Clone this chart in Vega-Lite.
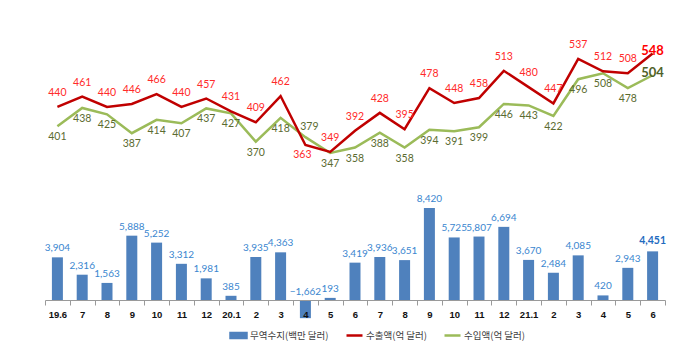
{
  "$schema": "https://vega.github.io/schema/vega-lite/v6.json",
  "width": 620,
  "height": 300,
  "autosize": {"type": "none"},
  "padding": {"left": 45, "right": 35, "top": 0, "bottom": 61},
  "background": "white",
  "config": {"view": {"stroke": null}},
  "data": {
    "values": [
      {"m": "19.6", "bal": 3904, "ex": 440, "im": 401},
      {"m": "19.7", "bal": 2316, "ex": 461, "im": 438},
      {"m": "19.8", "bal": 1563, "ex": 440, "im": 425},
      {"m": "19.9", "bal": 5888, "ex": 446, "im": 387},
      {"m": "19.10", "bal": 5252, "ex": 466, "im": 414},
      {"m": "19.11", "bal": 3312, "ex": 440, "im": 407},
      {"m": "19.12", "bal": 1981, "ex": 457, "im": 437},
      {"m": "20.1", "bal": 385, "ex": 431, "im": 427},
      {"m": "20.2", "bal": 3935, "ex": 409, "im": 370},
      {"m": "20.3", "bal": 4363, "ex": 462, "im": 418},
      {"m": "20.4", "bal": -1662, "ex": 363, "im": 379},
      {"m": "20.5", "bal": 193, "ex": 349, "im": 347},
      {"m": "20.6", "bal": 3419, "ex": 392, "im": 358},
      {"m": "20.7", "bal": 3936, "ex": 428, "im": 388},
      {"m": "20.8", "bal": 3651, "ex": 395, "im": 358},
      {"m": "20.9", "bal": 8420, "ex": 478, "im": 394},
      {"m": "20.10", "bal": 5725, "ex": 448, "im": 391},
      {"m": "20.11", "bal": 5807, "ex": 458, "im": 399},
      {"m": "20.12", "bal": 6694, "ex": 513, "im": 446},
      {"m": "21.1", "bal": 3670, "ex": 480, "im": 443},
      {"m": "21.2", "bal": 2484, "ex": 447, "im": 422},
      {"m": "21.3", "bal": 4085, "ex": 537, "im": 496},
      {"m": "21.4", "bal": 420, "ex": 512, "im": 508},
      {"m": "21.5", "bal": 2943, "ex": 508, "im": 478},
      {"m": "21.6", "bal": 4451, "ex": 548, "im": 504}
    ]
  },
  "encoding": {
    "x": {
      "field": "m",
      "type": "ordinal",
      "title": null,
      "sort": null,
      "scale": {"paddingInner": 0, "paddingOuter": 0},
      "axis": {
        "labelExpr": "!isString(datum.value) ? '' : ((datum.value == '19.6' || slice(datum.value, -2) == '.1') ? datum.value : split(datum.value, '.')[1])",
        "labelAngle": 0,
        "labelFont": "Liberation Sans",
        "labelFontWeight": "bold",
        "labelFontSize": 9.5,
        "labelColor": "#111111",
        "labelPadding": 4,
        "tickBand": "extent",
        "tickSize": 5,
        "tickColor": "#9A9A9A",
        "domainColor": "#9A9A9A",
        "zindex": 1,
        "grid": false
      }
    }
  },
  "layer": [
    {
      "mark": {"type": "bar", "size": 11, "color": "#4F81BD"},
      "encoding": {
        "y": {"field": "bal", "type": "quantitative", "scale": {"domain": [0, 27457], "nice": false, "zero": false}, "axis": null},
        "color": {
          "datum": "무역수지(백만 달러)",
          "scale": {"domain": ["무역수지(백만 달러)", "수출액(억 달러)", "수입액(억 달러)"], "range": ["#4F81BD", "#C00000", "#9BBB59"]},
          "legend": {
            "orient": "none",
            "legendX": 184,
            "legendY": 326,
            "direction": "horizontal",
            "gridAlign": "none",
            "title": null,
            "labelFont": "Noto Sans CJK KR",
            "labelFontSize": 9.5,
            "labelColor": "#404040",
            "symbolSize": 256,
            "columnPadding": 12,
            "labelOffset": 2,
            "encode": {
              "symbols": {
                "update": {
                  "shape": {"signal": "datum.value === '무역수지(백만 달러)' ? 'M-1,-0.3H1V0.3H-1Z' : 'M-1,0H1'"},
                  "fill": {"signal": "datum.value === '무역수지(백만 달러)' ? '#4F81BD' : 'transparent'"},
                  "stroke": {"signal": "datum.value === '수출액(억 달러)' ? '#C00000' : (datum.value === '수입액(억 달러)' ? '#9BBB59' : 'transparent')"},
                  "strokeWidth": {"value": 2.5},
                  "opacity": {"value": 1}
                }
              }
            }
          }
        }
      }
    },
    {
      "transform": [{"filter": "datum.bal >= 0 && datum.m != '21.6'"}],
      "mark": {"type": "text", "font": "Lato", "fontSize": 10, "color": "#3A86CF", "baseline": "middle", "dy": -9},
      "encoding": {
        "y": {"field": "bal", "type": "quantitative", "scale": {"domain": [0, 27457], "nice": false, "zero": false}, "axis": null},
        "text": {"field": "bal", "type": "quantitative", "format": ","}
      }
    },
    {
      "transform": [{"filter": "datum.bal < 0"}],
      "mark": {"type": "text", "font": "Lato", "fontSize": 10, "color": "#3A86CF", "baseline": "middle", "dy": -8},
      "encoding": {
        "y": {"datum": 0, "type": "quantitative", "scale": {"domain": [0, 27457], "nice": false, "zero": false}, "axis": null},
        "text": {"field": "bal", "type": "quantitative", "format": ","}
      }
    },
    {
      "transform": [{"filter": "datum.m == '21.6'"}],
      "mark": {"type": "text", "font": "Lato", "fontSize": 10.5, "fontWeight": "bold", "color": "#1F6BBF", "baseline": "middle", "dy": -10},
      "encoding": {
        "y": {"field": "bal", "type": "quantitative", "scale": {"domain": [0, 27457], "nice": false, "zero": false}, "axis": null},
        "text": {"field": "bal", "type": "quantitative", "format": ","}
      }
    },
    {
      "mark": {"type": "line", "strokeWidth": 2.5, "color": "#9BBB59"},
      "encoding": {
        "y": {"field": "im", "type": "quantitative", "scale": {"domain": [50, 656], "nice": false, "zero": false}, "axis": null},
        "color": {"datum": "수입액(억 달러)"}
      }
    },
    {
      "mark": {"type": "line", "strokeWidth": 2.5, "color": "#C00000"},
      "encoding": {
        "y": {"field": "ex", "type": "quantitative", "scale": {"domain": [50, 656], "nice": false, "zero": false}, "axis": null},
        "color": {"datum": "수출액(억 달러)"}
      }
    },
    {
      "transform": [{"filter": "datum.m != '20.4' && datum.m != '21.6'"}],
      "mark": {"type": "text", "font": "Lato", "fontSize": 10.5, "color": "#FF2A2A", "baseline": "middle", "dy": -14},
      "encoding": {
        "y": {"field": "ex", "type": "quantitative", "scale": {"domain": [50, 656], "nice": false, "zero": false}, "axis": null},
        "text": {"field": "ex", "type": "quantitative"}
      }
    },
    {
      "transform": [{"filter": "datum.m == '20.4'"}],
      "mark": {"type": "text", "font": "Lato", "fontSize": 10.5, "color": "#FF2A2A", "baseline": "middle", "dy": 10, "dx": -3},
      "encoding": {
        "y": {"field": "ex", "type": "quantitative", "scale": {"domain": [50, 656], "nice": false, "zero": false}, "axis": null},
        "text": {"field": "ex", "type": "quantitative"}
      }
    },
    {
      "transform": [{"filter": "datum.m == '21.6'"}],
      "mark": {"type": "text", "font": "Lato", "fontSize": 13, "fontWeight": "bold", "color": "#FF0000", "baseline": "middle", "dy": -2},
      "encoding": {
        "y": {"field": "ex", "type": "quantitative", "scale": {"domain": [50, 656], "nice": false, "zero": false}, "axis": null},
        "text": {"field": "ex", "type": "quantitative"}
      }
    },
    {
      "transform": [{"filter": "datum.m != '20.4' && datum.m != '21.6'"}],
      "mark": {"type": "text", "font": "Lato", "fontSize": 10.5, "color": "#5B6B30", "baseline": "middle", "dy": 11},
      "encoding": {
        "y": {"field": "im", "type": "quantitative", "scale": {"domain": [50, 656], "nice": false, "zero": false}, "axis": null},
        "text": {"field": "im", "type": "quantitative"}
      }
    },
    {
      "transform": [{"filter": "datum.m == '20.4'"}],
      "mark": {"type": "text", "font": "Lato", "fontSize": 10.5, "color": "#5B6B30", "baseline": "middle", "dy": -10, "dx": 4},
      "encoding": {
        "y": {"field": "im", "type": "quantitative", "scale": {"domain": [50, 656], "nice": false, "zero": false}, "axis": null},
        "text": {"field": "im", "type": "quantitative"}
      }
    },
    {
      "transform": [{"filter": "datum.m == '21.6'"}],
      "mark": {"type": "text", "font": "Lato", "fontSize": 13, "fontWeight": "bold", "color": "#4F6228", "baseline": "middle", "dy": -2},
      "encoding": {
        "y": {"field": "im", "type": "quantitative", "scale": {"domain": [50, 656], "nice": false, "zero": false}, "axis": null},
        "text": {"field": "im", "type": "quantitative"}
      }
    }
  ],
  "resolve": {"scale": {"y": "independent"}}
}
